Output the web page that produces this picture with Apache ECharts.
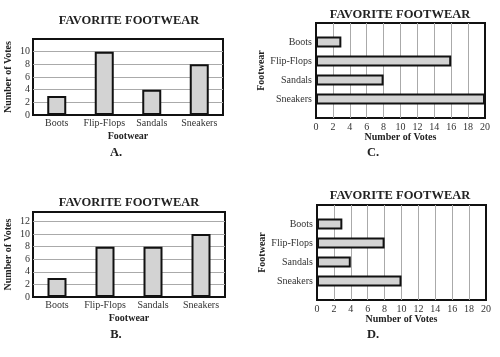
<!DOCTYPE html>
<html>
<head>
<meta charset="utf-8">
<script src="https://cdn.jsdelivr.net/npm/echarts@6/dist/echarts.min.js"></script>
<style>
  html, body { margin: 0; padding: 0; background: #fff; }
  #main { width: 500px; height: 357px; }
</style>
</head>
<body>
<div id="main"></div>
<script>
var footwear = ['Boots', 'Flip-Flops', 'Sandals', 'Sneakers'];
var votesA = [3, 10, 4, 8];
var votesB = [3, 8, 8, 10];
var votesC = [3, 16, 8, 20];
var votesD = [3, 8, 4, 10];
var ticksA = [0, 2, 4, 6, 8, 10];
var ticksB = [0, 2, 4, 6, 8, 10, 12];
var ticksCD = [0, 2, 4, 6, 8, 10, 12, 14, 16, 18, 20];

var serif = '"Liberation Serif", "DejaVu Serif", serif';
var txt = '#222';

// horizontal charts get an empty slot above and below the four bars
var padCats = [''].concat(footwear, ['']);
function pad(v) { return ['-'].concat(v, ['-']); }

function tickFmt(list) {
  return function (v) { return list.indexOf(v) >= 0 ? String(v) : ''; };
}

var grids = [
  { left: 33, top: 39, width: 190, height: 76 },
  { left: 33, top: 212, width: 192, height: 85 },
  { left: 316, top: 23, width: 169, height: 95 },
  { left: 317, top: 205, width: 169, height: 95 }
];
grids.forEach(function (g) {
  g.show = true; g.borderColor = '#111'; g.borderWidth = 2; g.backgroundColor = 'transparent';
});

var splitGray = { show: true, showMinLine: false, showMaxLine: false, lineStyle: { color: '#aaa', width: 1 } };
var lbl = { color: '#333', fontFamily: serif, fontSize: 10 };
var nameSt = { color: txt, fontFamily: serif, fontSize: 10, fontWeight: 'bold' };

function catAxisX(idx) {
  return {
    type: 'category', gridIndex: idx, data: footwear,
    axisLine: { show: false }, axisTick: { show: false },
    axisLabel: Object.assign({ margin: 3, interval: 0 }, lbl),
    name: 'Footwear', nameLocation: 'middle', nameGap: 16, nameTextStyle: nameSt
  };
}
function valAxisY(idx, max, ticks) {
  return {
    type: 'value', gridIndex: idx, min: 0, max: max, interval: 2,
    axisLine: { show: false }, axisTick: { show: false },
    axisLabel: Object.assign({ margin: 3, formatter: tickFmt(ticks) }, lbl),
    splitLine: splitGray,
    name: 'Number of Votes', nameLocation: 'middle', nameGap: 20, nameTextStyle: nameSt
  };
}
function valAxisX(idx) {
  return {
    type: 'value', gridIndex: idx, min: 0, max: 20, interval: 2,
    axisLine: { show: false }, axisTick: { show: false },
    axisLabel: Object.assign({ margin: 4, formatter: tickFmt(ticksCD) }, lbl),
    splitLine: splitGray,
    name: 'Number of Votes', nameLocation: 'middle', nameGap: 14, nameTextStyle: nameSt
  };
}
function catAxisY(idx) {
  return {
    type: 'category', gridIndex: idx, data: padCats, inverse: true, boundaryGap: false,
    axisLine: { show: false }, axisTick: { show: false }, splitLine: { show: false },
    axisLabel: Object.assign({ margin: 4, interval: 0 }, lbl),
    name: 'Footwear', nameLocation: 'middle', nameGap: 50, nameTextStyle: nameSt
  };
}

var barStyle = { color: '#d3d3d3', borderColor: '#111', borderWidth: 2 };

function heading(x, y, s, size) {
  return {
    type: 'text', x: x, y: y,
    style: { text: s, fill: txt, font: 'bold ' + size + 'px ' + serif, textAlign: 'center', textVerticalAlign: 'middle' }
  };
}

var chart = echarts.init(document.getElementById('main'), null, { renderer: 'canvas' });
chart.setOption({
  animation: false,
  grid: grids,
  xAxis: [catAxisX(0), catAxisX(1), valAxisX(2), valAxisX(3)],
  yAxis: [valAxisY(0, 12, ticksA), valAxisY(1, 13.5, ticksB), catAxisY(2), catAxisY(3)],
  series: [
    { type: 'bar', xAxisIndex: 0, yAxisIndex: 0, data: votesA, barWidth: 19, itemStyle: barStyle },
    { type: 'bar', xAxisIndex: 1, yAxisIndex: 1, data: votesB, barWidth: 19, itemStyle: barStyle },
    { type: 'bar', xAxisIndex: 2, yAxisIndex: 2, data: pad(votesC), barWidth: 11, itemStyle: barStyle },
    { type: 'bar', xAxisIndex: 3, yAxisIndex: 3, data: pad(votesD), barWidth: 11, itemStyle: barStyle }
  ],
  graphic: [
    heading(129, 21, 'FAVORITE FOOTWEAR', 12.5),
    heading(400, 15, 'FAVORITE FOOTWEAR', 12.5),
    heading(129, 203, 'FAVORITE FOOTWEAR', 12.5),
    heading(400, 196, 'FAVORITE FOOTWEAR', 12.5),
    heading(116, 153, 'A.', 12.5),
    heading(373, 153, 'C.', 12.5),
    heading(116, 335, 'B.', 12.5),
    heading(373, 335, 'D.', 12.5)
  ]
});
</script>
</body>
</html>
